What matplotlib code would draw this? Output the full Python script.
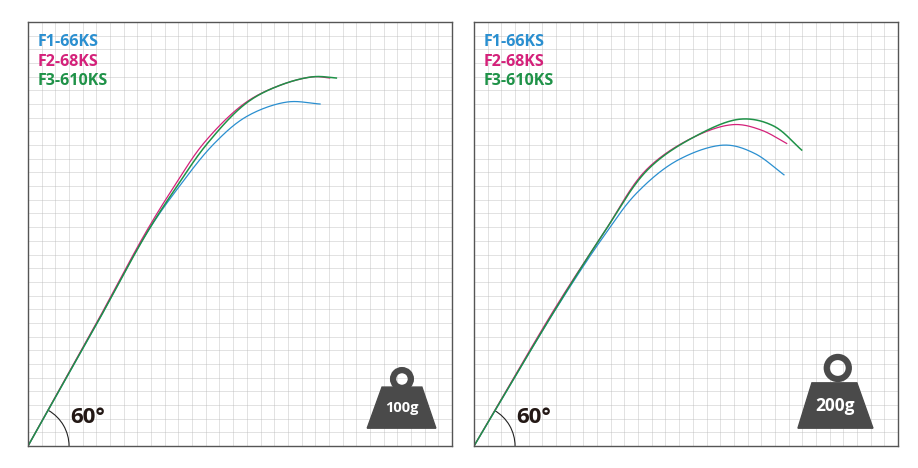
import matplotlib
matplotlib.use("Agg")
import matplotlib.pyplot as plt
import numpy as np
from matplotlib.patches import Arc, Polygon, Circle

names = ["F1-66KS", "F2-68KS", "F3-610KS"]
colors = ["#2a8fd0", "#d4217a", "#1f9248"]
angle_label = "60°"
weights = ["100g", "200g"]

# panel 1 (100g) curves, grid units
p1_f1_x = [0, 5.05, 8.7, 11.0, 13.6, 16.0, 18.95, 21.4]
p1_f1_y = [0, 8.98, 15.6, 18.9, 22.1, 24.1, 25.15, 25.0]
p1_f2_x = [0, 5.0, 8.6, 10.7, 12.9, 15.9, 18.5, 20.9, 22.1]
p1_f2_y = [0, 8.98, 15.6, 19.0, 22.2, 25.1, 26.4, 27.0, 26.9]
p1_f3_x = [0, 5.05, 8.7, 10.9, 13.1, 16.0, 18.5, 20.9, 22.6]
p1_f3_y = [0, 8.98, 15.6, 19.0, 22.1, 25.1, 26.4, 27.0, 26.9]
# panel 2 (200g)
p2_f1_x = [0, 6.1, 9.6, 11.9, 14.9, 18.3, 20.5, 22.7]
p2_f1_y = [0, 10.2, 15.5, 18.5, 20.9, 22.0, 21.4, 19.8]
p2_f2_x = [0, 6.0, 9.5, 12.6, 16.1, 19.0, 21.0, 22.9]
p2_f2_y = [0, 10.2, 15.6, 20.2, 22.6, 23.5, 23.1, 22.1]
p2_f3_x = [0, 6.07, 9.5, 12.7, 16.1, 19.5, 21.9, 24.0]
p2_f3_y = [0, 10.2, 15.6, 20.2, 22.6, 23.9, 23.4, 21.6]

def smooth(x, y, n=30):
    P = np.column_stack([np.asarray(x, float), np.asarray(y, float)])
    P = np.vstack([2*P[0]-P[1], P, 2*P[-1]-P[-2]])
    out = []
    for i in range(1, len(P)-2):
        p0, p1, p2, p3 = P[i-1], P[i], P[i+1], P[i+2]
        t0 = 0.0
        t1 = t0 + np.linalg.norm(p1-p0)**0.5
        t2 = t1 + np.linalg.norm(p2-p1)**0.5
        t3 = t2 + np.linalg.norm(p3-p2)**0.5
        for t in np.linspace(t1, t2, n, endpoint=False):
            a1 = (t1-t)/(t1-t0)*p0 + (t-t0)/(t1-t0)*p1
            a2 = (t2-t)/(t2-t1)*p1 + (t-t1)/(t2-t1)*p2
            a3 = (t3-t)/(t3-t2)*p2 + (t-t2)/(t3-t2)*p3
            b1 = (t2-t)/(t2-t0)*a1 + (t-t0)/(t2-t0)*a2
            b2 = (t3-t)/(t3-t1)*a2 + (t-t1)/(t3-t1)*a3
            out.append((t2-t)/(t2-t1)*b1 + (t-t1)/(t2-t1)*b2)
    out.append(P[-2])
    out = np.array(out)
    return out[:, 0], out[:, 1]

fig = plt.figure(figsize=(9.18, 4.68), dpi=100)
N = 31
panels = [
    (28, [(p1_f1_x, p1_f1_y), (p1_f2_x, p1_f2_y), (p1_f3_x, p1_f3_y)],
     dict(bx=(0.80, 0.962), by=0.042, tx=(0.835, 0.929), ty=0.139, rc=(0.882, 0.158), rr=0.021, fs=10.5)),
    (474, [(p2_f1_x, p2_f1_y), (p2_f2_x, p2_f2_y), (p2_f3_x, p2_f3_y)],
     dict(bx=(0.764, 0.941), by=0.042, tx=(0.797, 0.903), ty=0.149, rc=(0.858, 0.184), rr=0.026, fs=12.5)),
]
for k, (x0, curves, w) in enumerate(panels):
    ax = fig.add_axes([x0/918, (468-446)/468, 424/918, 424/468])
    ax.set_xlim(0, N); ax.set_ylim(0, N)
    for g in range(1, N):
        ax.axvline(g, color="#bbbbbb", lw=0.6, ls=(0, (1.2, 1.2)), zorder=0)
        ax.axhline(g, color="#bbbbbb", lw=0.6, ls=(0, (1.2, 1.2)), zorder=0)
    ax.set_xticks([]); ax.set_yticks([])
    for s in ax.spines.values():
        s.set_color("#555555"); s.set_linewidth(1.0)
    for (cx, cy), c, lw in zip(curves, colors, [0.9, 0.9, 1.1]):
        sx, sy = smooth(cx, cy)
        ax.plot(sx, sy, color=c, lw=lw, solid_capstyle="butt")
    for i, (nm, c) in enumerate(zip(names, colors)):
        ax.text(0.022, 0.952 - i*0.046, nm, color=c, transform=ax.transAxes,
                fontsize=11.5, fontweight="bold", va="center", ha="left", family="Open Sans")
    ax.add_patch(Arc((0, 0), 6, 6, theta1=0, theta2=60, color="#222", lw=0.8))
    ax.text(3.1, 2.1, angle_label, fontsize=16, fontweight="bold", color="#231815",
            va="center", ha="left", family="Open Sans")
    T = ax.transAxes
    ax.add_patch(Polygon([(w["bx"][0], w["by"]), (w["bx"][1], w["by"]), (w["tx"][1], w["ty"]), (w["tx"][0], w["ty"])],
                         closed=True, color="#4a4a4a", transform=T))
    ax.add_patch(Circle(w["rc"], w["rr"], fill=False, ec="#4a4a4a", lw=4.5, transform=T))
    ax.text((w["bx"][0]+w["bx"][1])/2, (w["by"]+w["ty"])/2, weights[k], color="white", fontsize=w["fs"],
            fontweight="bold", ha="center", va="center", transform=T, family="Open Sans")

fig.savefig("out.png", dpi=100)
